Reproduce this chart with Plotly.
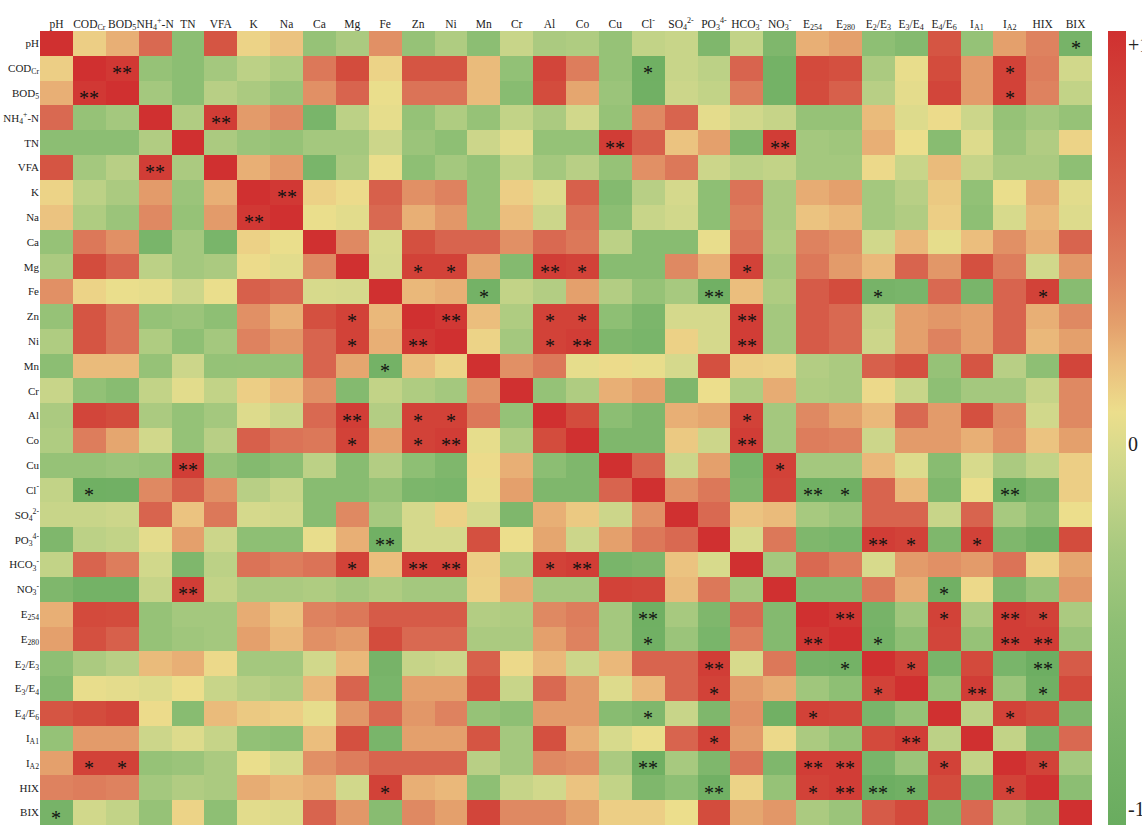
import plotly.graph_objects as go

labels = ["pH", "COD<sub>Cr</sub>", "BOD<sub>5</sub>", "NH<sub>4</sub><sup>+</sup>-N", "TN", "VFA",
          "K", "Na", "Ca", "Mg", "Fe", "Zn", "Ni", "Mn", "Cr", "Al", "Co", "Cu",
          "Cl<sup>-</sup>", "SO<sub>4</sub><sup>2-</sup>", "PO<sub>3</sub><sup>4-</sup>",
          "HCO<sub>3</sub><sup>-</sup>", "NO<sub>3</sub><sup>-</sup>", "E<sub>254</sub>", "E<sub>280</sub>",
          "E<sub>2</sub>/E<sub>3</sub>", "E<sub>3</sub>/E<sub>4</sub>", "E<sub>4</sub>/E<sub>6</sub>",
          "I<sub>A1</sub>", "I<sub>A2</sub>", "HIX", "BIX"]

# upper triangle: row i holds correlations with columns i+1 .. 31
upper = [
    [0.10, 0.21, 0.54, -0.52, 0.69, 0.08, 0.14, -0.44, -0.29, 0.33, -0.44, -0.27, -0.52, -0.14, -0.29, -0.27, -0.44, -0.17, -0.14, -0.69, -0.17, -0.69, 0.21, 0.26, -0.50, -0.63, 0.69, -0.45, 0.26, 0.39, -0.80],
    [0.93, -0.44, -0.52, -0.33, -0.20, -0.27, 0.45, 0.76, 0.08, 0.69, 0.69, 0.17, -0.47, 0.82, 0.42, -0.44, -0.90, -0.14, -0.20, 0.57, -0.84, 0.78, 0.73, -0.29, 0.02, 0.76, 0.28, 0.85, 0.42, -0.09],
    [-0.33, -0.52, -0.22, -0.29, -0.40, 0.33, 0.57, 0.03, 0.48, 0.48, 0.17, -0.57, 0.76, 0.24, -0.40, -0.88, -0.12, -0.17, 0.42, -0.84, 0.76, 0.60, -0.22, 0.00, 0.82, 0.28, 0.85, 0.39, -0.17],
    [-0.26, 0.89, 0.28, 0.36, -0.76, -0.20, 0.01, -0.45, -0.27, -0.44, -0.17, -0.29, -0.09, -0.44, 0.36, 0.57, 0.00, -0.09, -0.15, -0.44, -0.44, 0.17, -0.03, 0.05, -0.12, -0.44, -0.33, -0.44],
    [-0.29, -0.40, -0.44, -0.33, -0.33, -0.12, -0.40, -0.50, -0.12, -0.01, -0.45, -0.45, 0.89, 0.60, 0.14, 0.26, -0.69, 0.89, -0.33, -0.36, 0.21, 0.04, -0.57, -0.03, -0.40, -0.26, 0.08],
    [0.21, 0.28, -0.76, -0.29, 0.03, -0.50, -0.33, -0.45, -0.17, -0.33, -0.22, -0.44, 0.33, 0.45, -0.12, -0.20, -0.17, -0.33, -0.33, 0.06, -0.14, 0.17, -0.15, -0.29, -0.29, -0.50],
    [0.93, 0.09, 0.05, 0.60, 0.33, 0.39, -0.44, 0.10, -0.03, 0.60, -0.63, -0.22, -0.07, -0.50, 0.48, -0.29, 0.22, 0.26, -0.33, -0.22, 0.12, -0.47, 0.03, 0.22, -0.01],
    [0.03, -0.01, 0.54, 0.21, 0.30, -0.44, 0.16, -0.12, 0.48, -0.52, -0.14, -0.09, -0.50, 0.42, -0.29, 0.14, 0.18, -0.33, -0.26, 0.10, -0.50, -0.06, 0.18, -0.03],
    [0.36, -0.06, 0.73, 0.57, 0.57, 0.33, 0.54, 0.45, -0.20, -0.57, -0.57, 0.02, 0.48, -0.27, 0.39, 0.33, -0.09, 0.18, 0.01, 0.16, 0.33, 0.21, 0.57],
    [-0.07, 0.85, 0.85, 0.24, -0.63, 0.89, 0.85, -0.57, -0.57, 0.36, 0.21, 0.85, -0.33, 0.45, 0.28, 0.18, 0.57, 0.30, 0.73, 0.42, -0.09, 0.30],
    [0.18, 0.21, -0.84, -0.17, -0.25, 0.26, -0.25, -0.44, -0.31, -0.88, 0.16, -0.27, 0.64, 0.76, -0.80, -0.76, 0.54, -0.76, 0.57, 0.85, -0.57],
    [0.93, 0.16, -0.27, 0.85, 0.85, -0.50, -0.72, -0.07, -0.07, 0.89, -0.33, 0.64, 0.54, -0.15, 0.26, 0.30, 0.26, 0.57, 0.21, 0.36],
    [0.08, -0.33, 0.85, 0.89, -0.69, -0.76, 0.09, -0.07, 0.89, -0.33, 0.64, 0.54, -0.12, 0.26, 0.39, 0.26, 0.57, 0.18, 0.26],
    [0.33, 0.45, 0.01, 0.05, 0.02, -0.07, 0.73, 0.10, 0.09, -0.25, -0.29, 0.60, 0.73, -0.44, 0.69, -0.22, -0.50, 0.82],
    [-0.45, -0.27, 0.21, 0.26, -0.69, 0.04, -0.27, 0.22, -0.27, -0.29, 0.06, -0.14, -0.50, -0.33, -0.33, -0.15, 0.36],
    [0.76, -0.52, -0.69, 0.21, 0.24, 0.85, -0.33, 0.36, 0.26, 0.18, 0.54, 0.28, 0.73, 0.36, -0.09, 0.36],
    [-0.69, -0.69, 0.12, -0.12, 0.89, -0.33, 0.42, 0.39, -0.12, 0.28, 0.28, 0.21, 0.33, 0.14, 0.26],
    [0.57, -0.12, 0.26, -0.76, 0.85, -0.33, -0.33, 0.18, -0.03, -0.57, -0.06, -0.29, -0.17, 0.10],
    [0.33, 0.45, -0.69, 0.82, -0.90, -0.88, 0.57, 0.18, -0.69, 0.03, -0.90, -0.69, 0.10],
    [0.54, 0.14, 0.17, -0.31, -0.40, 0.57, 0.57, -0.14, 0.57, -0.31, -0.50, 0.04],
    [-0.06, 0.45, -0.69, -0.76, 0.89, 0.85, -0.69, 0.85, -0.69, -0.88, 0.76],
    [-0.33, 0.54, 0.42, -0.06, 0.28, 0.33, 0.28, 0.48, 0.08, 0.24],
    [-0.63, -0.63, 0.45, 0.22, -0.88, 0.06, -0.69, -0.44, 0.30],
    [0.93, -0.80, -0.36, 0.85, -0.29, 0.89, 0.85, -0.29],
    [-0.84, -0.50, 0.82, -0.44, 0.89, 0.89, -0.40],
    [0.85, -0.76, 0.78, -0.76, -0.94, 0.64],
    [-0.45, 0.89, -0.40, -0.88, 0.78],
    [-0.20, 0.85, 0.76, -0.69],
    [-0.17, -0.76, 0.54],
    [0.85, -0.33],
    [-0.52],
]

# significance marks: (row, column, text)
stars = [
    (0, 31, "*"),
    (1, 2, "**"), (1, 18, "*"), (1, 29, "*"),
    (2, 1, "**"), (2, 29, "*"),
    (3, 5, "**"),
    (4, 17, "**"), (4, 22, "**"),
    (5, 3, "**"),
    (6, 7, "**"),
    (7, 6, "**"),
    (9, 11, "*"), (9, 12, "*"), (9, 15, "**"), (9, 16, "*"), (9, 21, "*"),
    (10, 13, "*"), (10, 20, "**"), (10, 25, "*"), (10, 30, "*"),
    (11, 9, "*"), (11, 12, "**"), (11, 15, "*"), (11, 16, "*"), (11, 21, "**"),
    (12, 9, "*"), (12, 11, "**"), (12, 15, "*"), (12, 16, "**"), (12, 21, "**"),
    (13, 10, "*"),
    (15, 9, "**"), (15, 11, "*"), (15, 12, "*"), (15, 21, "*"),
    (16, 9, "*"), (16, 11, "*"), (16, 12, "**"), (16, 21, "**"),
    (17, 4, "**"), (17, 22, "*"),
    (18, 1, "*"), (18, 23, "**"), (18, 24, "*"), (18, 29, "**"),
    (20, 10, "**"), (20, 25, "**"), (20, 26, "*"), (20, 28, "*"),
    (21, 9, "*"), (21, 11, "**"), (21, 12, "**"), (21, 15, "*"), (21, 16, "**"),
    (22, 4, "**"), (22, 27, "*"),
    (23, 18, "**"), (23, 24, "**"), (23, 27, "*"), (23, 29, "**"), (23, 30, "*"),
    (24, 18, "*"), (24, 23, "**"), (24, 25, "*"), (24, 29, "**"), (24, 30, "**"),
    (25, 20, "**"), (25, 24, "*"), (25, 26, "*"), (25, 30, "**"),
    (26, 20, "*"), (26, 25, "*"), (26, 28, "**"), (26, 30, "*"),
    (27, 18, "*"), (27, 23, "*"), (27, 29, "*"),
    (28, 20, "*"), (28, 26, "**"),
    (29, 1, "*"), (29, 2, "*"), (29, 18, "**"), (29, 23, "**"), (29, 24, "**"), (29, 27, "*"), (29, 30, "*"),
    (30, 10, "*"), (30, 20, "**"), (30, 23, "*"), (30, 24, "**"), (30, 25, "**"), (30, 26, "*"), (30, 29, "*"),
    (31, 0, "*"),
]

# colour bar labels and the values they stand at
cbar_vals = [0.965, -0.04, -0.96]
cbar_text = ["+1", "0", "-1"]

colorscale = [
    [0.0, "rgb(105,172,95)"],
    [0.125, "rgb(122,181,106)"],
    [0.25, "rgb(142,191,116)"],
    [0.345, "rgb(167,201,127)"],
    [0.41, "rgb(192,210,135)"],
    [0.47, "rgb(215,218,140)"],
    [0.52, "rgb(236,222,140)"],
    [0.58, "rgb(235,190,125)"],
    [0.63, "rgb(228,160,108)"],
    [0.695, "rgb(222,130,95)"],
    [0.785, "rgb(216,100,78)"],
    [0.88, "rgb(211,76,61)"],
    [1.0, "rgb(208,48,48)"],
]

n = len(labels)
z = [[1.0] * n for _ in range(n)]
for i, row in enumerate(upper):
    for k, v in enumerate(row):
        j = i + 1 + k
        z[i][j] = v
        z[j][i] = v

FONT = "Liberation Serif, Times New Roman, serif"

fig = go.Figure(go.Heatmap(
    z=z, x=list(range(n)), y=list(range(n)),
    zmin=-1, zmax=1, colorscale=colorscale,
    hoverinfo="skip",
    colorbar=dict(
        x=1.0155, xanchor="left", xpad=0,
        y=0.5, yanchor="middle", ypad=0, len=1, lenmode="fraction",
        thickness=18, thicknessmode="pixels", outlinewidth=0,
        showticklabels=False, ticks="",
    ),
))

for (r, c, t) in stars:
    fig.add_annotation(x=c, y=r, text=t, showarrow=False, yshift=-5,
                       font=dict(family=FONT, size=20, color="#111"))

# colour bar labels (colour bar spans the full plot height: value v sits at paper y (v+1)/2)
for v, t in zip(cbar_vals, cbar_text):
    fig.add_annotation(xref="paper", yref="paper", x=1.0325, y=(v + 1) / 2, text=t,
                       xanchor="left", yanchor="middle", showarrow=False,
                       font=dict(family=FONT, size=20, color="#222"))

fig.update_xaxes(side="top", tickmode="array", tickvals=list(range(n)), ticktext=labels,
                 range=[-0.5, n - 0.5], showgrid=False, zeroline=False, ticks="",
                 automargin=False,
                 tickfont=dict(family=FONT, size=11.5, color="#222"), tickangle=0)
fig.update_yaxes(tickmode="array", tickvals=list(range(n)), ticktext=labels,
                 range=[n - 0.5, -0.5], showgrid=False, zeroline=False, ticks="",
                 automargin=False,
                 tickfont=dict(family=FONT, size=11, color="#222"))

fig.update_layout(width=1142, height=825,
                  margin=dict(l=40, r=50, t=31, b=0, autoexpand=False),
                  paper_bgcolor="white", plot_bgcolor="white", showlegend=False)

# remove the default 8 px page margin so the figure fills the window exactly
fig.write_html("out.html", config={"displayModeBar": False},
               post_script="document.body.style.margin='0';")
